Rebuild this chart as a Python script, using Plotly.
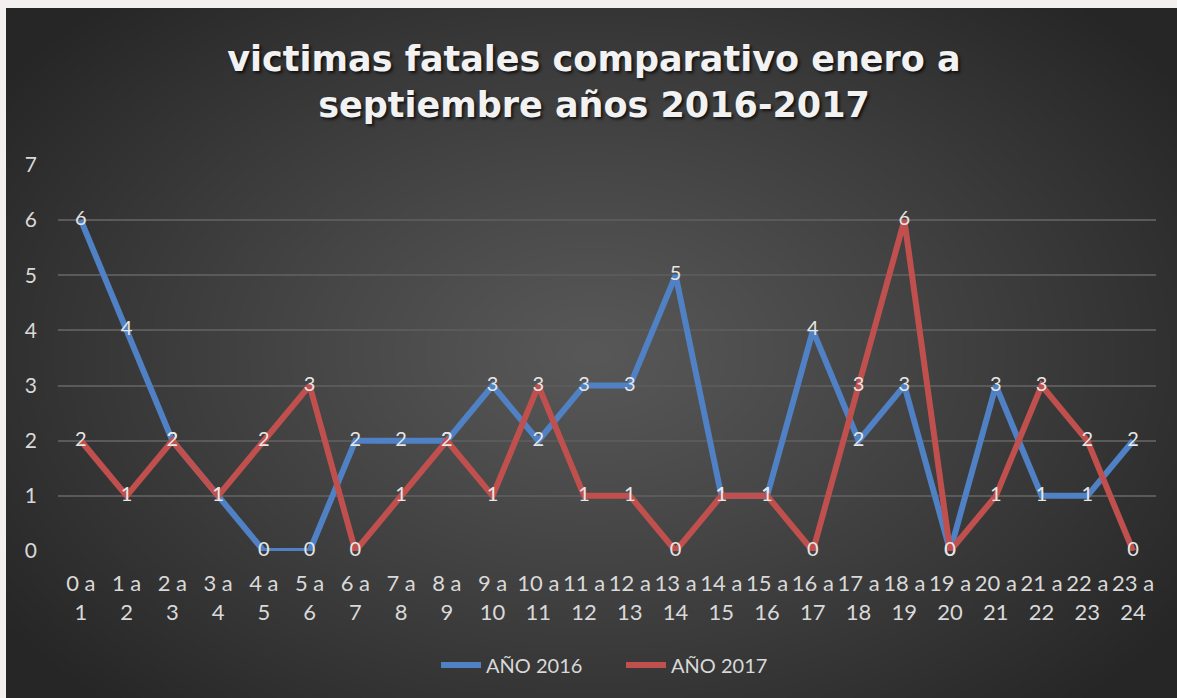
import base64, struct, zlib
import numpy as np
import plotly.graph_objects as go

# ---- data ----
tick_labels = ["0 a<br>1", "1 a<br>2", "2 a<br>3", "3 a<br>4", "4 a<br>5", "5 a<br>6",
               "6 a<br>7", "7 a<br>8", "8 a<br>9", "9 a<br>10", "10 a<br>11", "11 a<br>12",
               "12 a<br>13", "13 a<br>14", "14 a<br>15", "15 a<br>16", "16 a<br>17", "17 a<br>18",
               "18 a<br>19", "19 a<br>20", "20 a<br>21", "21 a<br>22", "22 a<br>23", "23 a<br>24"]
anio_2016 = [6, 4, 2, 1, 0, 0, 2, 2, 2, 3, 2, 3, 3, 5, 1, 1, 4, 2, 3, 0, 3, 1, 1, 2]
anio_2017 = [2, 1, 2, 1, 2, 3, 0, 1, 2, 1, 3, 1, 1, 0, 1, 1, 0, 3, 6, 0, 1, 3, 2, 0]
series_names = ["AÑO 2016", "AÑO 2017"]
title_text = "victimas fatales comparativo enero a<br>septiembre años 2016-2017"

# ---- radial gradient background image ----
W, H = 1177, 698
L, R, T, B = 58, 21, 165, 147
pw, ph = W - L - R, H - T - B
cx0, cy0, cx1, cy1 = 6, 8, 1177, 698

gw, gh = 400, 240
yy, xx = np.mgrid[0:gh, 0:gw]
nx = (xx + 0.5) / gw - 0.5
ny = (yy + 0.5) / gh - 0.5
r = np.sqrt((nx / 0.62) ** 2 + (ny / 0.70) ** 2)
r = np.clip(r, 0, 1)
c_in, c_out = 88, 38
val = (c_in - (c_in - c_out) * r ** 1.1).astype(np.uint8)
img = np.stack([val, val, val], axis=-1)

def to_png(a):
    h, w, _ = a.shape
    raw = b"".join(b"\x00" + a[i].tobytes() for i in range(h))
    def chunk(t, d):
        c = struct.pack(">I", len(d)) + t + d
        return c + struct.pack(">I", zlib.crc32(t + d) & 0xffffffff)
    return (b"\x89PNG\r\n\x1a\n" + chunk(b"IHDR", struct.pack(">IIBBBBB", w, h, 8, 2, 0, 0, 0))
            + chunk(b"IDAT", zlib.compress(raw, 9)) + chunk(b"IEND", b""))

src = "data:image/png;base64," + base64.b64encode(to_png(img)).decode()

fig = go.Figure()
colors = ["#4f81c4", "#c0504d"]
for name, vals, col in zip(series_names, [anio_2016, anio_2017], colors):
    fig.add_trace(go.Scatter(
        x=tick_labels, y=vals, name=name, mode="lines+text",
        line=dict(color=col, width=6),
        text=[str(v) for v in vals], textposition="middle center",
        textfont=dict(family="Lato", size=20, color="#e6e6e6"),
        cliponaxis=False, hoverinfo="skip"))

fig.update_layout(
    width=W, height=H,
    margin=dict(l=L, r=R, t=T, b=B),
    paper_bgcolor="#f5f0f0",
    plot_bgcolor="rgba(0,0,0,0)",
    images=[dict(source=src, xref="paper", yref="paper",
                 x=(cx0 - L) / pw, y=(H - B - cy0) / ph,
                 sizex=(cx1 - cx0) / pw, sizey=(cy1 - cy0) / ph,
                 xanchor="left", yanchor="top", sizing="stretch", layer="below")],
    title=dict(text=title_text, x=(594 - L) / pw, xanchor="center", xref="paper",
               y=(H - 71) / H, yanchor="middle",
               font=dict(family="DejaVu Sans", size=35, color="#f2f2f2", weight="bold",
                         shadow="2px 2px 3px rgba(0,0,0,0.7)")),
    showlegend=True,
    legend=dict(orientation="h", x=(436 - L) / pw, xanchor="left",
                y=(H - B - 665) / ph, yanchor="middle",
                font=dict(family="Lato", size=20, color="#d9d9d9"),
                bgcolor="rgba(0,0,0,0)", itemwidth=40,
                entrywidth=130, entrywidthmode="pixels"),
    xaxis=dict(type="category", showgrid=False, zeroline=False, showline=False,
               ticks="", tickfont=dict(family="Lato", size=22, color="#d9d9d9"),
               ticklabelstandoff=17,
               range=[-0.5, 23.5], fixedrange=True),
    yaxis=dict(range=[0, 7], dtick=1, showgrid=True, gridcolor="#5a5a5a", gridwidth=1.5,
               zeroline=False, showline=False, ticks="", ticklabelstandoff=20,
               tickfont=dict(family="Lato", size=21, color="#d9d9d9"), fixedrange=True),
)

fig.write_html("out.html", config={"displayModeBar": False},
               post_script="document.body.style.margin='0';"
                           "document.body.style.background='#f5f0f0';"
                           "document.documentElement.style.overflow='hidden';")
